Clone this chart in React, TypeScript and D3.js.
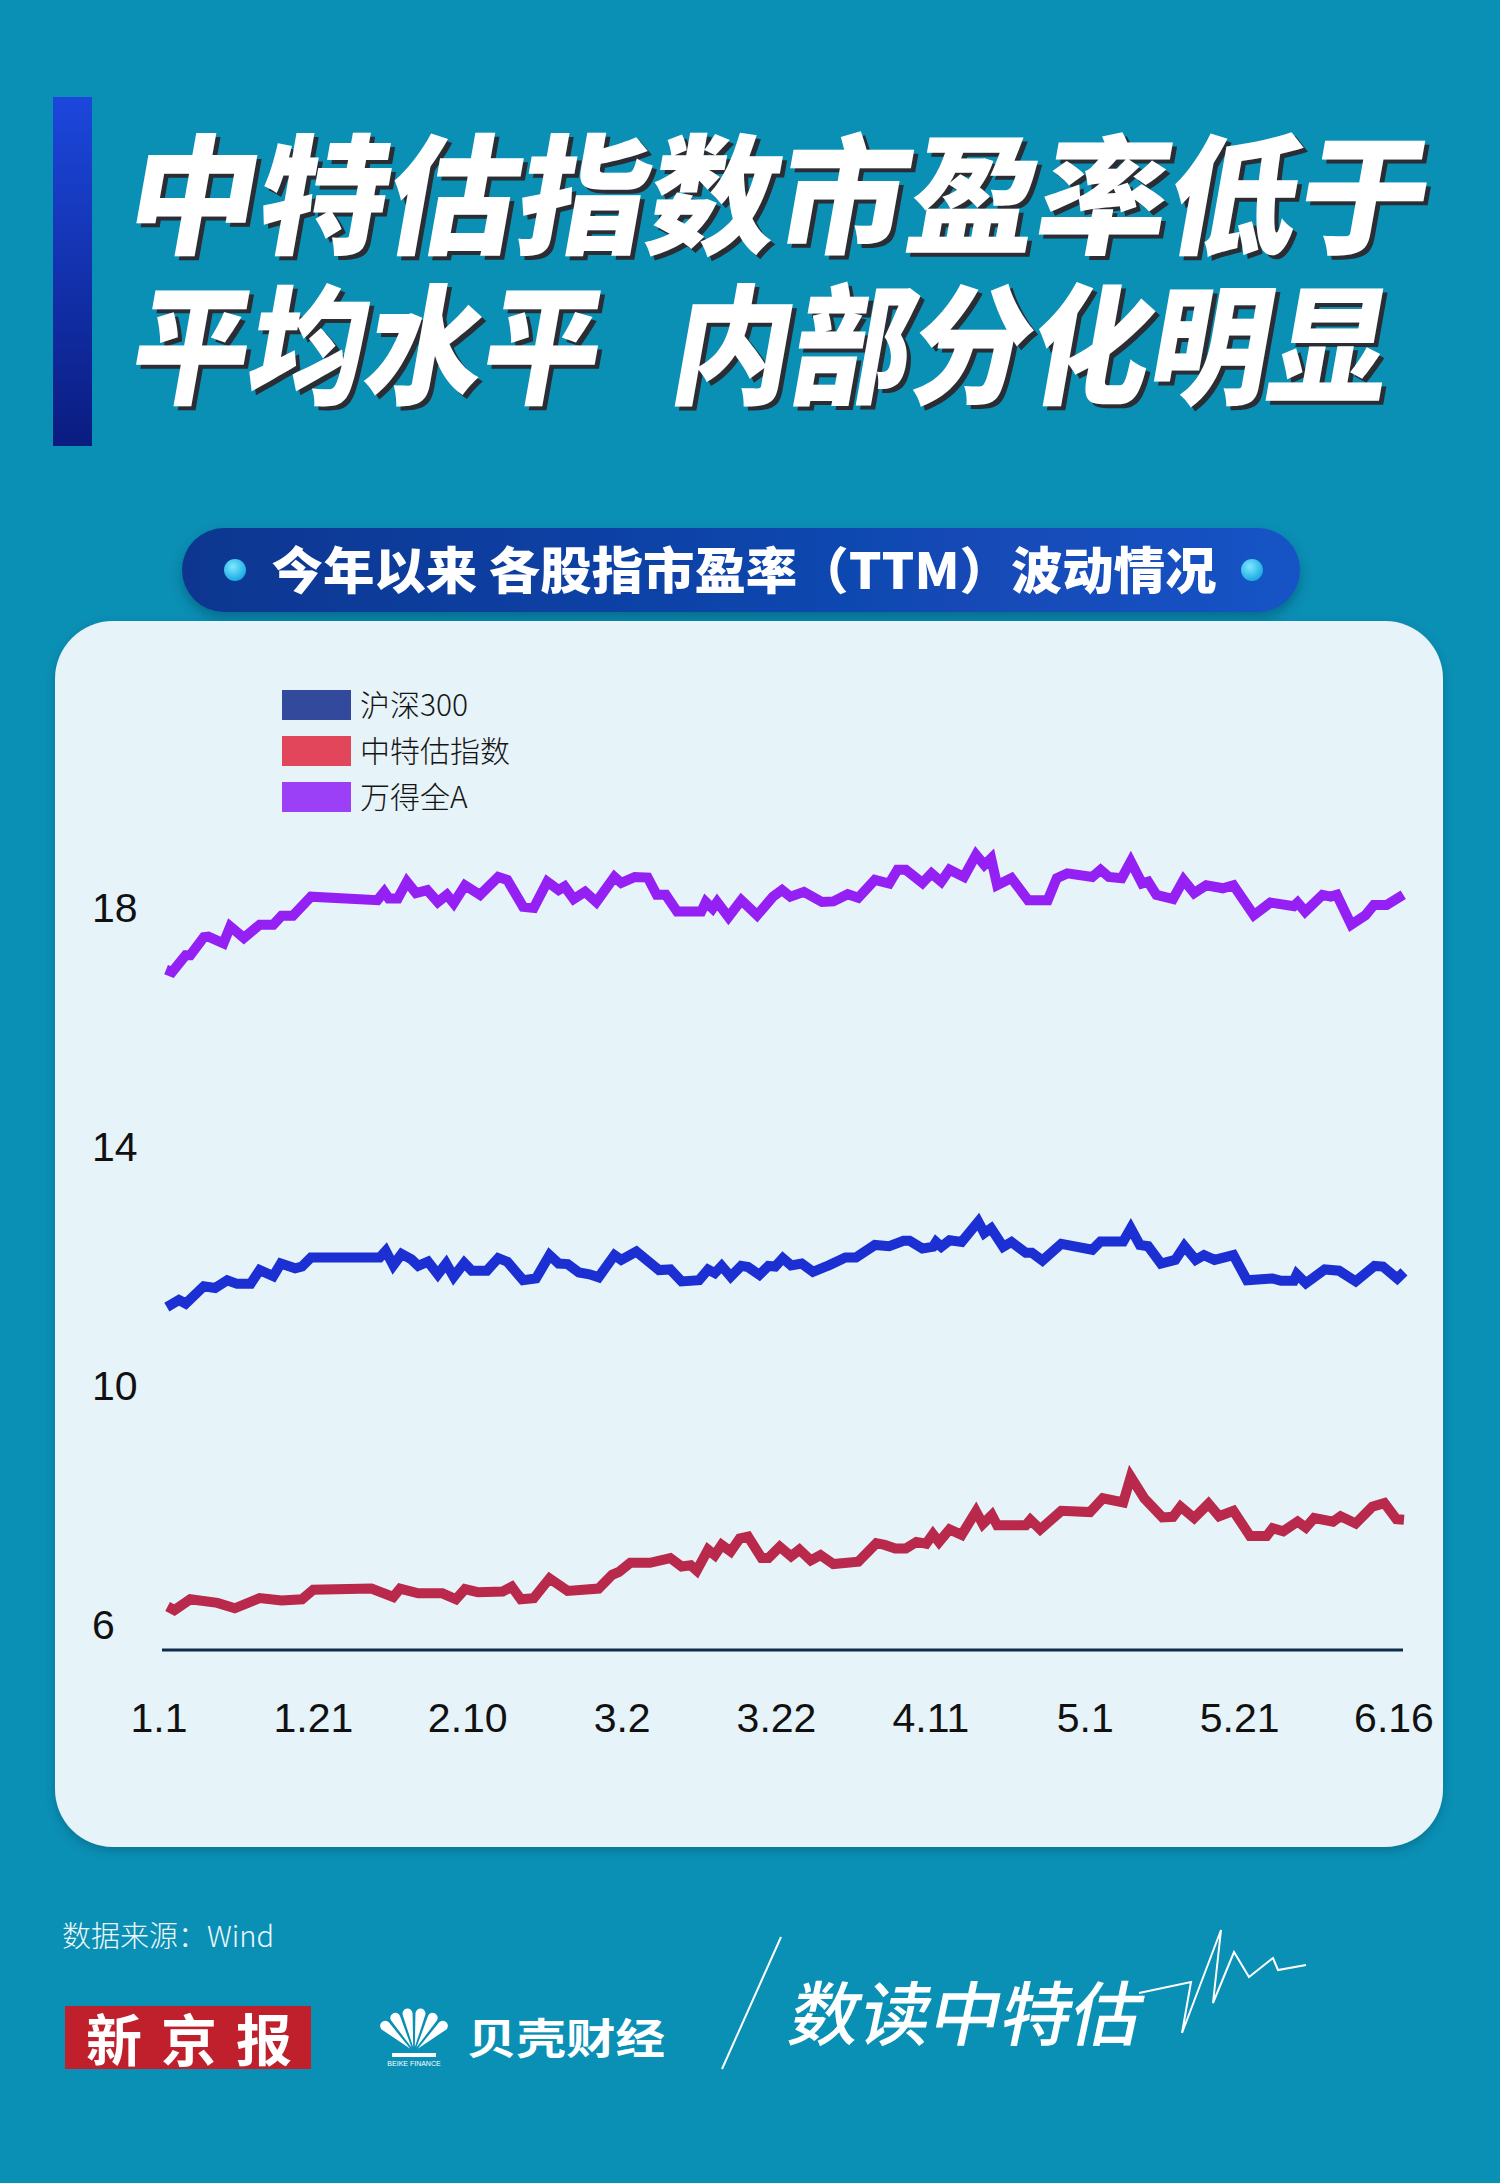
import React from 'react';
import * as d3 from 'd3';

const titleLine1 = '中特估指数市盈率低于';
const titleLine2a = '平均水平';
const titleLine2b = '内部分化明显';
const subtitle = '今年以来 各股指市盈率（TTM）波动情况';
const seriesNames = ['沪深300', '中特估指数', '万得全A'];
const xTickLabels = ['1.1', '1.21', '2.10', '3.2', '3.22', '4.11', '5.1', '5.21', '6.16'];
const yTicks = [18, 14, 10, 6];
const sourceText = '数据来源：Wind';

// [days since 2023-01-01, PE TTM]
const hs300: [number, number][] = [
  [2.1, 11.32], [3.7, 11.44], [4.6, 11.38], [7.0, 11.67], [8.5, 11.64], [10.1, 11.77], [11.4, 11.71], [13.2, 11.71],
  [14.4, 11.94], [16.2, 11.84], [17.2, 12.05], [19.1, 11.97], [20.0, 12.0], [21.2, 12.15], [30.3, 12.15], [31.1, 12.26],
  [32.1, 12.02], [33.2, 12.21], [34.5, 12.12], [35.4, 12.01], [36.7, 12.08], [38.0, 11.87], [39.1, 12.05], [40.1, 11.83],
  [41.5, 12.06], [42.5, 11.93], [44.5, 11.93], [46.0, 12.14], [47.2, 12.08], [49.3, 11.77], [51.0, 11.8], [52.8, 12.19],
  [54.0, 12.05], [55.2, 12.04], [56.7, 11.9], [58.1, 11.87], [59.3, 11.82], [61.4, 12.19], [62.3, 12.11], [64.3, 12.25],
  [67.3, 11.94], [68.8, 11.95], [70.3, 11.75], [72.6, 11.77], [73.8, 11.95], [74.7, 11.89], [75.6, 12.01], [76.8, 11.83],
  [78.2, 12.01], [79.1, 11.99], [80.6, 11.86], [81.8, 12.01], [82.7, 12.0], [83.7, 12.14], [84.8, 12.02], [86.2, 12.05],
  [87.7, 11.91], [89.8, 12.02], [92.0, 12.15], [93.4, 12.15], [95.9, 12.36], [97.8, 12.34], [99.7, 12.43], [100.5, 12.43],
  [102.2, 12.3], [103.6, 12.33], [104.0, 12.41], [104.7, 12.33], [105.8, 12.44], [107.4, 12.41], [109.6, 12.75], [110.4, 12.56],
  [111.3, 12.64], [112.9, 12.33], [114.0, 12.41], [115.9, 12.23], [116.7, 12.23], [118.1, 12.1], [120.6, 12.38], [124.7, 12.28],
  [125.8, 12.42], [128.8, 12.42], [129.8, 12.64], [131.0, 12.36], [132.1, 12.34], [133.8, 12.05], [135.7, 12.11], [136.9, 12.34],
  [138.4, 12.11], [139.5, 12.19], [140.9, 12.11], [143.4, 12.19], [145.2, 11.77], [148.6, 11.8], [149.7, 11.76], [151.4, 11.76],
  [151.8, 11.87], [153.0, 11.72], [155.5, 11.95], [157.4, 11.93], [159.6, 11.75], [162.1, 12.01], [163.2, 12.0], [165.1, 11.8],
  [166.0, 11.91],
];

const ztgIndex: [number, number][] = [
  [2.2, 6.31], [3.1, 6.25], [5.2, 6.43], [8.8, 6.37], [11.1, 6.28], [14.4, 6.45], [17.3, 6.41], [20.0, 6.43],
  [21.5, 6.59], [29.2, 6.61], [32.1, 6.47], [33.0, 6.61], [35.4, 6.53], [38.6, 6.53], [40.4, 6.43], [41.6, 6.6],
  [43.3, 6.55], [46.6, 6.56], [47.8, 6.64], [49.0, 6.43], [50.7, 6.45], [52.8, 6.78], [55.2, 6.57], [59.3, 6.61],
  [61.1, 6.84], [62.0, 6.89], [63.5, 7.04], [66.1, 7.04], [68.8, 7.12], [70.3, 6.98], [71.5, 7.0], [72.3, 6.91],
  [73.8, 7.26], [74.7, 7.17], [75.6, 7.34], [76.8, 7.23], [78.0, 7.45], [79.1, 7.48], [80.9, 7.12], [81.8, 7.12],
  [83.3, 7.31], [84.8, 7.15], [85.9, 7.26], [87.4, 7.08], [88.7, 7.17], [90.4, 7.02], [93.7, 7.06], [96.1, 7.37],
  [97.2, 7.34], [98.6, 7.28], [100.0, 7.28], [101.4, 7.39], [102.7, 7.36], [103.6, 7.52], [104.4, 7.39], [105.8, 7.6],
  [107.4, 7.51], [109.3, 7.9], [110.2, 7.69], [111.4, 7.84], [112.1, 7.67], [115.9, 7.67], [116.5, 7.76], [117.8, 7.6],
  [120.6, 7.91], [124.4, 7.89], [126.1, 8.12], [128.8, 8.05], [129.8, 8.48], [131.6, 8.12], [134.0, 7.8], [135.4, 7.81],
  [136.4, 7.98], [138.2, 7.79], [140.1, 8.03], [141.5, 7.82], [143.4, 7.91], [145.6, 7.49], [147.8, 7.49], [148.6, 7.62],
  [150.0, 7.57], [151.9, 7.73], [153.0, 7.63], [154.1, 7.79], [156.6, 7.73], [157.6, 7.82], [159.6, 7.7], [161.8, 7.98],
  [163.4, 8.04], [165.0, 7.77], [166.0, 7.76],
];

const windAllA: [number, number][] = [
  [2.0, 16.97], [2.8, 16.93], [4.6, 17.21], [5.2, 17.21], [7.0, 17.51], [7.6, 17.52], [9.6, 17.41], [10.5, 17.69],
  [12.3, 17.5], [14.4, 17.72], [16.2, 17.72], [17.3, 17.87], [18.8, 17.87], [21.2, 18.19], [30.0, 18.13], [30.9, 18.27],
  [31.5, 18.16], [32.7, 18.16], [33.9, 18.44], [35.1, 18.25], [36.6, 18.3], [38.0, 18.1], [39.2, 18.22], [40.1, 18.08],
  [41.6, 18.38], [43.6, 18.22], [46.0, 18.52], [47.2, 18.47], [49.3, 18.02], [50.7, 18.0], [52.5, 18.44], [54.0, 18.3],
  [54.8, 18.36], [56.0, 18.15], [57.5, 18.27], [59.0, 18.1], [61.4, 18.52], [62.3, 18.42], [64.1, 18.52], [65.8, 18.51],
  [67.0, 18.22], [68.2, 18.22], [69.7, 17.94], [72.9, 17.94], [73.5, 18.1], [74.4, 17.99], [75.0, 18.1], [76.5, 17.85],
  [78.2, 18.13], [80.3, 17.88], [82.4, 18.19], [83.6, 18.3], [84.7, 18.19], [86.5, 18.27], [88.9, 18.1], [90.4, 18.11],
  [92.3, 18.23], [93.7, 18.17], [95.9, 18.47], [97.8, 18.41], [98.9, 18.64], [100.0, 18.64], [102.2, 18.42], [103.4, 18.58],
  [104.7, 18.44], [105.8, 18.64], [107.7, 18.52], [109.3, 18.89], [110.4, 18.72], [111.3, 18.83], [112.1, 18.38], [114.0, 18.5],
  [116.2, 18.13], [118.8, 18.13], [120.0, 18.5], [121.4, 18.58], [124.7, 18.52], [125.8, 18.64], [126.9, 18.52], [128.6, 18.5],
  [129.8, 18.78], [131.3, 18.41], [132.1, 18.44], [133.2, 18.22], [135.4, 18.15], [136.8, 18.47], [138.2, 18.25], [139.8, 18.38],
  [142.0, 18.33], [143.4, 18.38], [146.1, 17.88], [148.3, 18.09], [151.4, 18.03], [151.9, 18.09], [152.9, 17.94], [155.2, 18.22],
  [156.3, 18.19], [157.1, 18.22], [159.0, 17.72], [160.9, 17.88], [162.0, 18.05], [163.7, 18.05], [165.9, 18.22],
];

const lineColors = ['#1b2fd2', '#b8294b', '#9420f4'];
const swatchColors = ['#334a9c', '#e2465b', '#9c40f8'];

const CJK = '"Noto Sans CJK SC", "Noto Sans", sans-serif';
const NUM = '"Liberation Sans", Arial, sans-serif';

export default function App() {
  const W = 1500;
  const H = 2183;
  const x = d3.scaleLinear().domain([0, 166]).range([151, 1404]);
  const y = d3.scaleLinear().domain([6, 18]).range([1625, 908]);
  const xl = d3.scalePoint<string>().domain(xTickLabels).range([159, 1394]);
  const line = d3.line<[number, number]>().x((d) => x(d[0])).y((d) => y(d[1]));
  const series = [hs300, ztgIndex, windAllA];

  const shellArc = d3.arc<any>().innerRadius(5).outerRadius(44).cornerRadius(7).padAngle(0.07);
  const nPetals = 6;
  const a0 = -1.0;
  const a1 = 1.0;
  const petals = d3.range(nPetals).map((i) => ({
    startAngle: a0 + ((a1 - a0) * i) / nPetals,
    endAngle: a0 + ((a1 - a0) * (i + 1)) / nPetals,
  }));

  const heart = [
    [1139, 1993], [1191, 1982], [1182, 2033], [1221, 1930], [1213, 2003], [1234, 1952],
    [1249, 1977], [1273, 1958], [1278, 1970], [1306, 1965],
  ];

  const titleStyle = { fontFamily: CJK, fontWeight: 900 as const, fontSize: 130 };

  const titleText = (txt: string, tx: number, ty: number, len: number) => (
    <g transform={`translate(${tx},${ty}) skewX(-10)`}>
      <text x={5} y={4} fill="#2a2d33" textLength={len} lengthAdjust="spacingAndGlyphs" style={titleStyle}>
        {txt}
      </text>
      <text x={0} y={0} fill="#ffffff" textLength={len} lengthAdjust="spacingAndGlyphs" style={titleStyle}>
        {txt}
      </text>
    </g>
  );

  return (
    <svg width={W} height={H} viewBox={`0 0 ${W} ${H}`} style={{ position: 'absolute', left: 0, top: 0 }}>
      <defs>
        <linearGradient id="barGrad" x1="0" y1="0" x2="0" y2="1">
          <stop offset="0" stopColor="#1c47dc" />
          <stop offset="1" stopColor="#0a1c80" />
        </linearGradient>
        <linearGradient id="pillGrad" x1="0" y1="0" x2="1" y2="0">
          <stop offset="0" stopColor="#0b3690" />
          <stop offset="1" stopColor="#1553c6" />
        </linearGradient>
        <radialGradient id="dotGrad" cx="0.4" cy="0.35" r="0.7">
          <stop offset="0" stopColor="#7fe8ff" />
          <stop offset="1" stopColor="#12a6e0" />
        </radialGradient>
        <filter id="shadow" x="-10%" y="-10%" width="120%" height="140%">
          <feDropShadow dx="0" dy="6" stdDeviation="6" floodColor="#04425a" floodOpacity="0.45" />
        </filter>
        <filter id="cardShadow" x="-5%" y="-5%" width="110%" height="110%">
          <feDropShadow dx="0" dy="4" stdDeviation="5" floodColor="#04425a" floodOpacity="0.35" />
        </filter>
      </defs>

      <rect x={0} y={0} width={W} height={H} fill="#0a8fb5" />

      {/* title */}
      <rect x={53} y={97} width={39} height={349} fill="url(#barGrad)" />
      {titleText(titleLine1, 122, 244, 1300)}
      {titleText(titleLine2a, 126, 394, 468)}
      {titleText(titleLine2b, 667, 394, 716)}

      {/* subtitle pill */}
      <rect x={182} y={528} width={1118} height={84} rx={42} fill="url(#pillGrad)" filter="url(#shadow)" />
      <circle cx={235} cy={570} r={11} fill="url(#dotGrad)" />
      <circle cx={1252} cy={570} r={11} fill="url(#dotGrad)" />
      <text
        x={744}
        y={589}
        textAnchor="middle"
        fill="#ffffff"
        textLength={945}
        lengthAdjust="spacingAndGlyphs"
        style={{ fontFamily: CJK, fontWeight: 900, fontSize: 50 }}
      >
        {subtitle}
      </text>

      {/* card */}
      <rect x={55} y={621} width={1388} height={1226} rx={58} fill="#e6f3f8" filter="url(#cardShadow)" />

      {/* legend */}
      {seriesNames.map((n, i) => (
        <g key={n}>
          <rect x={282} y={690 + i * 46} width={69} height={30} fill={swatchColors[i]} />
          <text x={360} y={716 + i * 46} fill="#151515" style={{ fontFamily: CJK, fontWeight: 300, fontSize: 30 }}>
            {n}
          </text>
        </g>
      ))}

      {/* y labels */}
      {yTicks.map((t) => (
        <text
          key={t}
          x={92}
          y={y(t)}
          dominantBaseline="central"
          fill="#111"
          style={{ fontFamily: NUM, fontSize: 41 }}
        >
          {t}
        </text>
      ))}

      {/* axis line */}
      <line x1={162} x2={1403} y1={1650} y2={1650} stroke="#0f2d4b" strokeWidth={3} />

      {/* x labels */}
      {xTickLabels.map((l) => (
        <text
          key={l}
          x={xl(l)}
          y={1718}
          textAnchor="middle"
          dominantBaseline="central"
          fill="#111"
          style={{ fontFamily: NUM, fontSize: 41 }}
        >
          {l}
        </text>
      ))}

      {/* lines */}
      {series.map((s, i) => (
        <path
          key={i}
          d={line(s) || ''}
          fill="none"
          stroke={lineColors[i]}
          strokeWidth={10}
          strokeLinejoin="miter"
          strokeMiterlimit={4}
        />
      ))}

      {/* footer */}
      <text x={62} y={1947} fill="#eef8fb" style={{ fontFamily: CJK, fontWeight: 300, fontSize: 29 }}>
        {sourceText}
      </text>

      <rect x={65} y={2006} width={246} height={63} fill="#c0202b" />
      <text
        x={86}
        y={2061}
        fill="#ffffff"
        textLength={206}
        lengthAdjust="spacing"
        style={{ fontFamily: CJK, fontWeight: 700, fontSize: 56 }}
      >
        新京报
      </text>

      <g transform="translate(414,2052)">
        {petals.map((p, i) => (
          <path key={i} d={shellArc(p as any) || ''} fill="#ffffff" />
        ))}
        <rect x={-22} y={1} width={44} height={4} fill="#ffffff" />
        <text x={0} y={14} textAnchor="middle" fill="#ffffff" style={{ fontFamily: NUM, fontSize: 7 }}>
          BEIKE FINANCE
        </text>
      </g>
      <text
        x={467}
        y={2054}
        fill="#ffffff"
        textLength={198}
        lengthAdjust="spacingAndGlyphs"
        style={{ fontFamily: CJK, fontWeight: 700, fontSize: 42 }}
      >
        贝壳财经
      </text>

      <line x1={781} y1={1937} x2={722} y2={2069} stroke="#ffffff" strokeWidth={2} />
      <g transform="translate(786,2040) skewX(-12)">
        <text
          x={0}
          y={0}
          fill="#ffffff"
          textLength={352}
          lengthAdjust="spacingAndGlyphs"
          style={{ fontFamily: CJK, fontWeight: 500, fontSize: 70 }}
        >
          数读中特估
        </text>
      </g>
      <polyline
        points={heart.map((p) => p.join(',')).join(' ')}
        fill="none"
        stroke="#ffffff"
        strokeWidth={2}
        strokeLinejoin="miter"
      />
    </svg>
  );
}
